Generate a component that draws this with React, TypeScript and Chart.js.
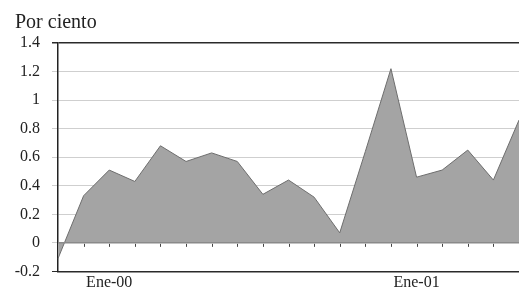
import React, { useEffect, useRef } from "react";
import { Chart, registerables } from "chart.js";

Chart.register(...registerables);

const months = [
  "Nov-99", "Dic-99", "Ene-00", "Feb-00", "Mar-00", "Abr-00", "May-00", "Jun-00",
  "Jul-00", "Ago-00", "Sep-00", "Oct-00", "Nov-00", "Dic-00", "Ene-01", "Feb-01",
  "Mar-01", "Abr-01", "May-01",
];
const values = [
  -0.11, 0.33, 0.51, 0.43, 0.68, 0.57, 0.63, 0.57, 0.34, 0.44, 0.32, 0.07, 0.64,
  1.22, 0.46, 0.51, 0.65, 0.44, 0.86,
];
const shownMonthLabels = ["Ene-00", "Ene-01"];
const yTickValues = [-0.2, 0, 0.2, 0.4, 0.6, 0.8, 1, 1.2, 1.4];
const yTickLabels = ["-0.2", "0", "0.2", "0.4", "0.6", "0.8", "1", "1.2", "1.4"];
const unitTitle = "Por ciento";

const SERIF = "'Liberation Serif', 'Times New Roman', serif";

const decorPlugin = {
  id: "decor",
  afterDatasetsDraw(chart: any) {
    const { ctx, chartArea, scales } = chart;
    const y0 = scales.y.getPixelForValue(0);
    ctx.save();
    ctx.strokeStyle = "#8a8a8a";
    ctx.lineWidth = 1.5;
    ctx.beginPath();
    ctx.moveTo(chartArea.left, y0);
    ctx.lineTo(chartArea.right, y0);
    ctx.stroke();
    ctx.strokeStyle = "#444";
    ctx.lineWidth = 1;
    for (let i = 1; i < months.length - 1; i++) {
      const x = Math.round(scales.x.getPixelForValue(i)) + 0.5;
      ctx.beginPath();
      ctx.moveTo(x, y0 + 1);
      ctx.lineTo(x, y0 + 4);
      ctx.stroke();
    }
    ctx.restore();
  },
  afterDraw(chart: any) {
    const { ctx } = chart;
    ctx.save();
    ctx.fillStyle = "#222";
    ctx.font = `20px ${SERIF}`;
    ctx.textBaseline = "alphabetic";
    ctx.textAlign = "left";
    ctx.fillText(unitTitle, 15, 28);
    ctx.restore();
  },
};

export default function App() {
  const ref = useRef<HTMLCanvasElement | null>(null);
  useEffect(() => {
    if (!ref.current) return;
    const chart = new Chart(ref.current, {
      type: "line",
      data: {
        labels: months,
        datasets: [
          {
            data: values,
            fill: "origin",
            backgroundColor: "#a4a4a4",
            borderColor: "#6e6e6e",
            borderWidth: 1,
            pointRadius: 0,
            tension: 0,
          },
        ],
      },
      options: {
        responsive: false,
        animation: false,
        layout: { padding: { top: 43, left: 0, right: 0, bottom: 0 } },
        plugins: {
          legend: { display: false },
          title: { display: false },
          tooltip: { enabled: false },
        },
        scales: {
          x: {
            type: "category",
            offset: false,
            grid: { display: false, drawTicks: false },
            border: { display: true, color: "#2a2a2a", width: 1.5 },
            ticks: {
              autoSkip: false,
              maxRotation: 0,
              padding: 2,
              color: "#222",
              font: { family: SERIF, size: 16 },
              callback: (_v: any, i: number) =>
                shownMonthLabels.includes(months[i]) ? months[i] : "",
            },
            afterFit: (s: any) => {
              s.height = 17;
              s.paddingRight = 0;
              s.paddingLeft = 0;
            },
          },
          y: {
            min: -0.2,
            max: 1.4,
            afterBuildTicks: (s: any) => {
              s.ticks = yTickValues.map((v) => ({ value: v }));
            },
            grid: {
              drawTicks: true,
              tickLength: 6,
              color: (c: any) => {
                const v = c.tick ? c.tick.value : null;
                if (v === 1.4) return "#2a2a2a";
                if (v === -0.2) return "#2a2a2a";
                return "#cfcfcf";
              },
              lineWidth: (c: any) => (c.tick && c.tick.value === 1.4 ? 1.5 : 1),
            },
            border: { display: true, color: "#222", width: 1.5 },
            ticks: {
              padding: 12,
              color: "#222",
              font: { family: SERIF, size: 16 },
              callback: (v: any) => {
                const idx = yTickValues.findIndex((t) => Math.abs(t - Number(v)) < 1e-9);
                return idx >= 0 ? yTickLabels[idx] : "";
              },
            },
            afterFit: (s: any) => {
              s.width = 58;
            },
          },
        },
      },
      plugins: [decorPlugin],
    } as any);
    return () => chart.destroy();
  }, []);
  return (
    <div style={{ position: "absolute", left: 0, top: 0, width: 519, height: 293, background: "#fff" }}>
      <canvas ref={ref} width={519} height={293} />
    </div>
  );
}
